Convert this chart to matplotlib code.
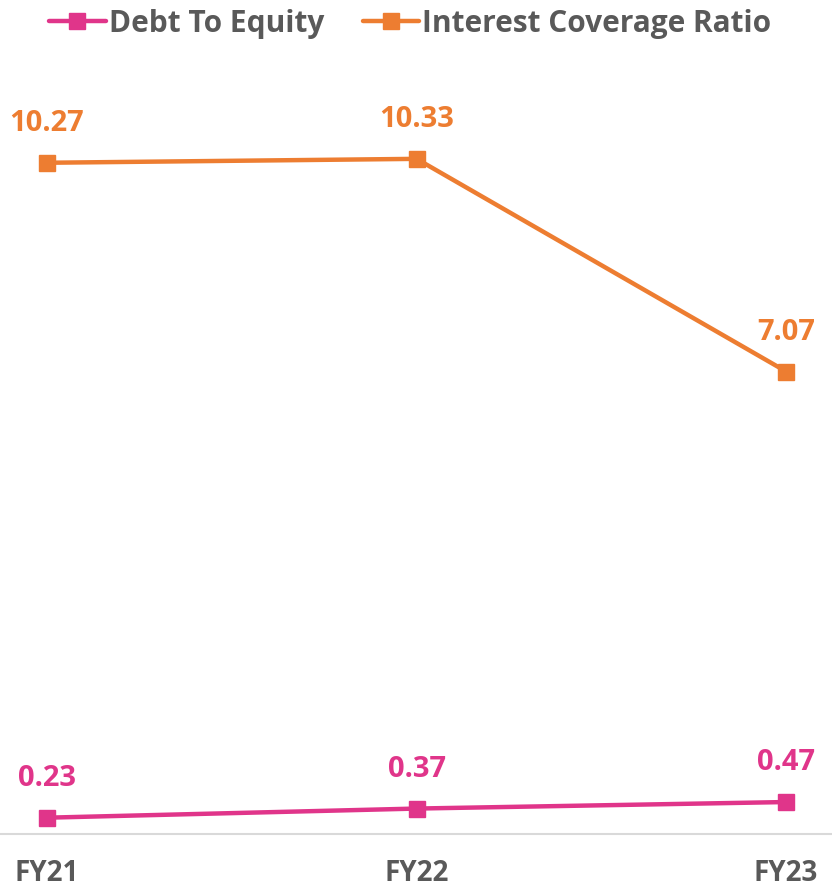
import matplotlib
matplotlib.use('Agg')
import matplotlib.pyplot as plt

years = ['FY21', 'FY22', 'FY23']
debt_to_equity = [0.23, 0.37, 0.47]
interest_coverage = [10.27, 10.33, 7.07]

PINK = '#E0358A'
ORANGE = '#ED7D31'
GRAY = '#595959'

plt.rcParams['font.family'] = ['Open Sans', 'DejaVu Sans']
plt.rcParams['font.weight'] = 'bold'

fig = plt.figure(figsize=(8.32, 8.87), dpi=100)
ax = fig.add_axes([0.0, 52 / 887, 1.0, 773 / 887])

x = list(range(len(years)))
series = [
    ('Debt To Equity', debt_to_equity, PINK),
    ('Interest Coverage Ratio', interest_coverage, ORANGE),
]
for name, vals, c in series:
    ax.plot(x, vals, '-', color=c, lw=3.2, marker='s', ms=11.5,
            solid_capstyle='round', label=name)
    for xi, v in zip(x, vals):
        ax.annotate(f'{v:.2f}', (xi, v), xytext=(0, 29), textcoords='offset points',
                    ha='center', va='center', color=c, fontsize=21, fontweight='bold')

ax.set_xlim(-0.127, 2.124)
ax.set_ylim(-0.02, 11.83)
ax.set_xticks(x)
ax.set_xticklabels(years, fontsize=20, color=GRAY, fontweight='bold')
ax.tick_params(axis='x', length=0, pad=17)
ax.set_yticks([])
for s in ['top', 'left', 'right']:
    ax.spines[s].set_visible(False)
ax.spines['bottom'].set_color('#D9D9D9')
ax.spines['bottom'].set_linewidth(1.5)

leg = fig.legend(loc='upper center', bbox_to_anchor=(0.493, 1.02), ncol=2, frameon=False,
                 fontsize=21.5, handlelength=1.9, columnspacing=1.3, handletextpad=0.1)
for t in leg.get_texts():
    t.set_color(GRAY)

fig.savefig('out.png', dpi=100)
